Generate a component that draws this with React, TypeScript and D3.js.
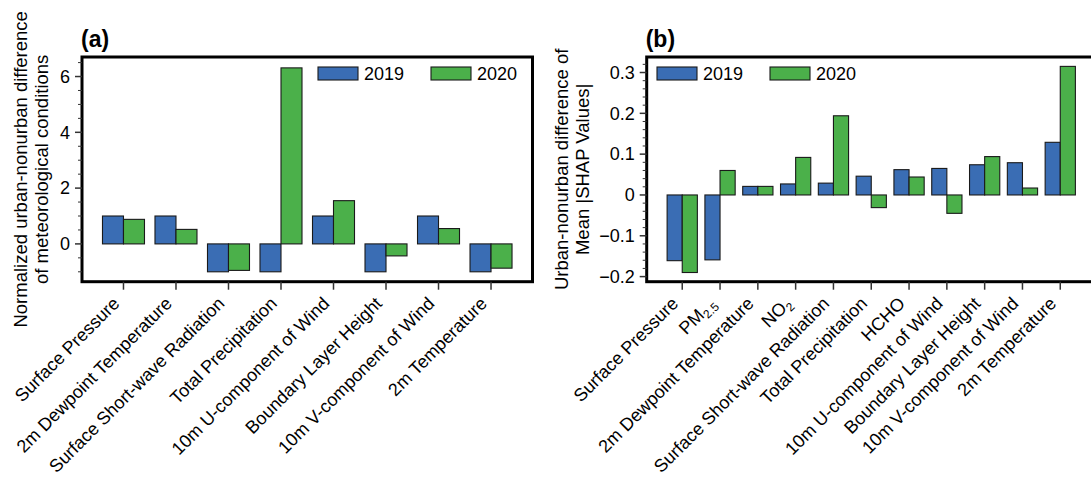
import React from 'react';
import * as d3 from 'd3';

const catsA = [
  'Surface Pressure',
  '2m Dewpoint Temperature',
  'Surface Short-wave Radiation',
  'Total Precipitation',
  '10m U-component of Wind',
  'Boundary Layer Height',
  '10m V-component of Wind',
  '2m Temperature',
];
const a2019 = [1, 1, -1, -1, 1, -1, 1, -1];
const a2020 = [0.88, 0.52, -0.95, 6.31, 1.55, -0.43, 0.55, -0.87];
const aTicks = [0, 2, 4, 6];

const catsB = [
  'Surface Pressure',
  'PM2.5',
  '2m Dewpoint Temperature',
  'NO2',
  'Surface Short-wave Radiation',
  'Total Precipitation',
  'HCHO',
  '10m U-component of Wind',
  'Boundary Layer Height',
  '10m V-component of Wind',
  '2m Temperature',
];
const b2019 = [-0.161, -0.159, 0.021, 0.027, 0.029, 0.046, 0.062, 0.065, 0.074, 0.079, 0.129];
const b2020 = [-0.19, 0.06, 0.021, 0.092, 0.194, -0.031, 0.044, -0.045, 0.094, 0.017, 0.315];
const bTicks = [-0.2, -0.1, 0, 0.1, 0.2, 0.3];

const years = ['2019', '2020'];
const colors = ['#3a6db4', '#4bb04a'];
const FONT = '"Liberation Sans", Arial, Helvetica, sans-serif';
const FS = 18;

// labels with chemical subscripts
const renderLabel = (s: string) => {
  const m = s.match(/^(PM|NO)([\d.]+)$/);
  if (!m) return s;
  return (
    <>
      {m[1]}
      <tspan fontSize={12} dy={4}>{m[2]}</tspan>
    </>
  );
};

const fmt = (v: number, dec: number) => (v === 0 ? '0' : v.toFixed(dec).replace('-', '\u2212'));

interface PanelProps {
  title: string;
  cats: string[];
  s1: number[];
  s2: number[];
  ticks: number[];
  minorStep: number;
  dec: number;
  xDomain: [number, number];
  yDomain: [number, number];
  left: number;
  right: number;
  ylabel: string[];
  ylabelX: number;
  legendX: number;
}

const TOP = 57;
const BOTTOM = 281.7;

const Panel = (p: PanelProps) => {
  const x = d3.scaleLinear().domain(p.xDomain).range([p.left, p.right]);
  const y = d3.scaleLinear().domain(p.yDomain).range([BOTTOM, TOP]);
  const bw = x(0.4) - x(0);
  const minor = d3
    .range(Math.ceil(p.yDomain[0] / p.minorStep) * p.minorStep, p.yDomain[1], p.minorStep)
    .filter(v => !p.ticks.some(t => Math.abs(t - v) < 1e-9));
  const midY = (TOP + BOTTOM) / 2;
  const series = [p.s1, p.s2];

  return (
    <g>
      {/* bars */}
      {series.map((s, k) =>
        s.map((v, i) => (
          <rect
            key={`${k}-${i}`}
            x={x(i - 0.4 + k * 0.4)}
            y={Math.min(y(v), y(0))}
            width={bw}
            height={Math.abs(y(v) - y(0))}
            fill={colors[k]}
            stroke='#1a1a1a'
            strokeWidth={1.1}
          />
        ))
      )}
      {/* frame */}
      <rect
        x={p.left}
        y={TOP}
        width={p.right - p.left}
        height={BOTTOM - TOP}
        fill='none'
        stroke='#000'
        strokeWidth={3}
      />
      {/* y ticks */}
      {p.ticks.map(t => (
        <g key={`yt${t}`}>
          <line x1={p.left - 7} x2={p.left} y1={y(t)} y2={y(t)} stroke='#333' strokeWidth={1.5} />
          <text
            x={p.left - 12}
            y={y(t)}
            dy='0.35em'
            textAnchor='end'
            fontSize={FS}
            fontFamily={FONT}
            fill='#000'
          >
            {fmt(t, p.dec)}
          </text>
        </g>
      ))}
      {minor.map(t => (
        <line key={`ym${t}`} x1={p.left - 4} x2={p.left} y1={y(t)} y2={y(t)} stroke='#333' strokeWidth={1} />
      ))}
      {/* x ticks + labels */}
      {p.cats.map((c, i) => (
        <g key={`xt${i}`}>
          <line x1={x(i)} x2={x(i)} y1={BOTTOM} y2={BOTTOM + 8} stroke='#333' strokeWidth={1.5} />
          <text
            transform={`translate(${x(i) - 3},${BOTTOM + 23}) rotate(-45)`}
            textAnchor='end'
            fontSize={FS}
            fontFamily={FONT}
            fill='#000'
          >
            {renderLabel(c)}
          </text>
        </g>
      ))}
      {/* y label */}
      <text
        transform={`translate(${p.ylabelX},${midY}) rotate(-90)`}
        textAnchor='middle'
        fontSize={18.5}
        fontFamily={FONT}
        fill='#000'
      >
        {p.ylabel.map((l, j) => (
          <tspan key={j} x={0} dy={j === 0 ? 0 : 21}>
            {l}
          </tspan>
        ))}
      </text>
      {/* title */}
      <text x={p.left - 1} y={47} fontSize={23} fontWeight='bold' fontFamily={FONT} fill='#000'>
        {p.title}
      </text>
      {/* legend */}
      {years.map((yr, k) => (
        <g key={yr} transform={`translate(${p.legendX + k * 113},67)`}>
          <rect width={40} height={13} fill={colors[k]} stroke='#1a1a1a' strokeWidth={1.1} />
          <text x={46} y={6.5} dy='0.35em' fontSize={FS} fontFamily={FONT} fill='#000'>
            {yr}
          </text>
        </g>
      ))}
    </g>
  );
};

const App = () => {
  return (
    <svg
      width={1091}
      height={478}
      style={{ position: 'absolute', left: 0, top: 0, background: '#fff' }}
    >
      <Panel
        title='(a)'
        cats={catsA}
        s1={a2019}
        s2={a2020}
        ticks={aTicks}
        minorStep={0.5}
        dec={0}
        xDomain={[-0.79, 7.79]}
        yDomain={[-1.355, 6.7]}
        left={82}
        right={532.5}
        ylabel={['Normalized urban-nonurban difference', 'of meteorological conditions']}
        ylabelX={27}
        legendX={318}
      />
      <Panel
        title='(b)'
        cats={catsB}
        s1={b2019}
        s2={b2020}
        ticks={bTicks}
        minorStep={0.02}
        dec={1}
        xDomain={[-0.94, 10.94]}
        yDomain={[-0.2125, 0.338]}
        left={646.7}
        right={1095.8}
        ylabel={['Urban-nonurban difference of', 'Mean |SHAP Values|']}
        ylabelX={568}
        legendX={657}
      />
    </svg>
  );
};

export default App;
